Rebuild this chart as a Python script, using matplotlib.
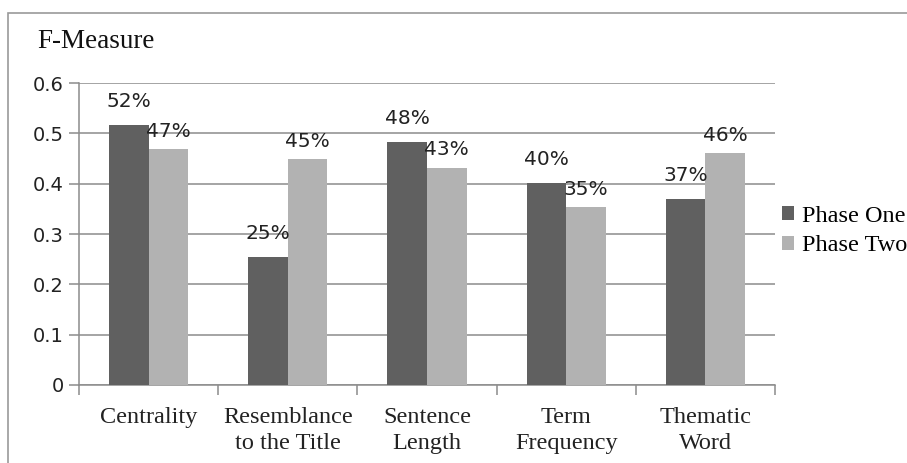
import numpy as np
import matplotlib.pyplot as plt
from matplotlib.patches import Rectangle

# F-measure per feature, two phases
features = ['Centrality', 'Resemblance\nto the Title', 'Sentence\nLength', 'Term\nFrequency', 'Thematic\nWord']
phase_one = [0.517, 0.254, 0.483, 0.401, 0.369]
phase_two = [0.468, 0.449, 0.432, 0.353, 0.461]
series_names = ['Phase One', 'Phase Two']
y_ticks = [0, 0.1, 0.2, 0.3, 0.4, 0.5, 0.6]

dark = '#606060'
light = '#b2b2b2'
grid_col = '#8c8c8c'
serif = ['Liberation Serif', 'DejaVu Serif']

fig = plt.figure(figsize=(9.07, 4.63), dpi=100)
ax = fig.add_axes([0.0871, 0.1685, 0.7674, 0.6522])

# chart-area border (runs off the right and bottom edges)
fig.patches.append(Rectangle((8 / 907, -0.05), 1.2, 1 - 13 / 463 + 0.05,
                             transform=fig.transFigure, fill=False,
                             edgecolor='#9a9a9a', linewidth=1.2))

x = np.arange(len(features))
w = 0.285
b1 = ax.bar(x - w / 2, phase_one, w, color=dark, label=series_names[0], zorder=3)
b2 = ax.bar(x + w / 2, phase_two, w, color=light, label=series_names[1], zorder=3)

for bars, dy in ((b1, 10), (b2, 6)):
    for rect in bars:
        v = rect.get_height()
        ax.annotate(f'{round(v * 100)}%', (rect.get_x() + rect.get_width() / 2, v),
                    xytext=(0, dy), textcoords='offset points', ha='center', va='bottom',
                    fontsize=14.5, color='#222222', zorder=4)

ax.set_xlim(-0.5, len(features) - 0.5)
ax.set_ylim(0, 0.6)
ax.set_yticks(y_ticks)
ax.set_yticklabels([f'{t:g}' for t in y_ticks], fontsize=14, color='#222222')
ax.yaxis.grid(True, color=grid_col, linewidth=1.1, zorder=0)
ax.tick_params(axis='y', length=7, width=1.1, color=grid_col, pad=4)

ax.set_xticks(x)
ax.set_xticklabels(features, fontfamily=serif, fontsize=17.5, color='#222222', linespacing=1.3)
ax.set_xticks(np.arange(-0.5, len(features), 1), minor=True)
ax.tick_params(axis='x', which='major', length=0, pad=16)
ax.tick_params(axis='x', which='minor', length=7, width=1.1, color=grid_col)

for s in ('top', 'right'):
    ax.spines[s].set_visible(False)
for s in ('left', 'bottom'):
    ax.spines[s].set_color(grid_col)
    ax.spines[s].set_linewidth(1.1)

fig.text(37 / 907, 1 - 42 / 463, 'F-Measure', fontfamily=serif, fontsize=19.5,
         va='center', ha='left', color='#111111')

ax.legend(loc='center left', bbox_to_anchor=(1.0, 0.51), frameon=False,
          prop={'family': serif, 'size': 17.5}, handlelength=0.5, handleheight=0.5,
          handletextpad=0.33, labelspacing=0.35, borderaxespad=0, borderpad=0.3)

fig.savefig('out.png', dpi=100)
